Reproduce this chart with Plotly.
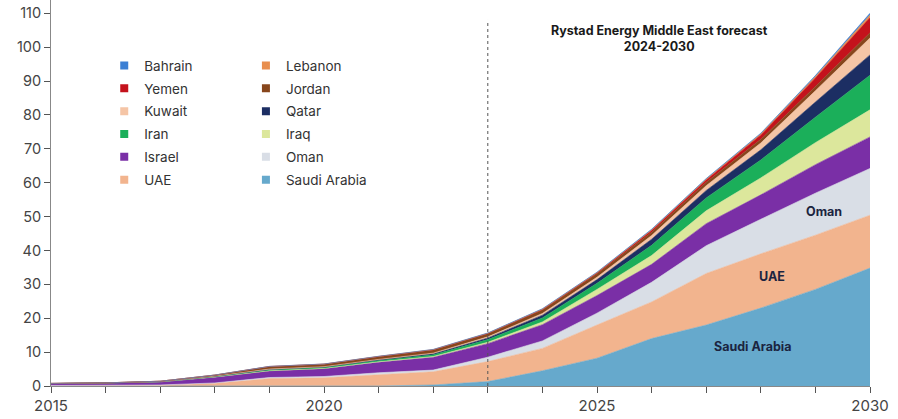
import plotly.graph_objects as go

# Installed capacity by country, stacked (GW)
years = list(range(2015, 2031))

saudi_arabia = [0, 0, 0, 0, 0, 0, 0, 0.3, 1.3, 4.5, 8.2, 14.0, 18.0, 23.0, 28.5, 34.8]
uae = [0.1, 0.15, 0.25, 0.8, 2.2, 2.4, 3.4, 3.9, 5.9, 6.6, 9.8, 10.8, 15.2, 16.0, 16.0, 15.6]
oman = [0.05, 0.05, 0.05, 0.1, 0.3, 0.4, 0.5, 0.5, 1.3, 2.2, 3.5, 5.8, 8.2, 10.2, 12.4, 13.8]
israel = [0.55, 0.65, 0.9, 1.7, 1.9, 2.3, 3.1, 3.8, 4.0, 4.8, 5.2, 5.3, 6.5, 7.2, 8.4, 9.3]
iraq = [0, 0, 0.02, 0.05, 0.1, 0.1, 0.15, 0.2, 0.4, 0.8, 1.8, 2.6, 3.8, 5.0, 6.5, 8.0]
iran = [0.02, 0.03, 0.05, 0.15, 0.3, 0.3, 0.4, 0.5, 0.8, 1.2, 1.8, 3.0, 3.8, 5.3, 7.5, 10.2]
qatar = [0, 0, 0.02, 0.05, 0.1, 0.1, 0.2, 0.3, 0.5, 0.8, 1.1, 1.8, 2.2, 3.0, 4.5, 6.0]
kuwait = [0, 0, 0.02, 0.05, 0.1, 0.1, 0.1, 0.2, 0.3, 0.5, 0.7, 1.1, 1.4, 2.0, 3.3, 5.0]
jordan = [0.05, 0.05, 0.1, 0.3, 0.7, 0.7, 0.8, 0.9, 0.9, 1.0, 1.0, 1.0, 1.0, 1.1, 1.3, 1.5]
yemen = [0, 0, 0, 0.02, 0.05, 0.05, 0.05, 0.1, 0.1, 0.2, 0.25, 0.5, 0.7, 1.3, 2.5, 4.5]
lebanon = [0, 0, 0, 0.01, 0.02, 0.03, 0.05, 0.05, 0.1, 0.1, 0.15, 0.2, 0.25, 0.3, 0.4, 0.8]
bahrain = [0, 0, 0, 0.01, 0.02, 0.02, 0.03, 0.05, 0.05, 0.1, 0.1, 0.15, 0.15, 0.2, 0.3, 0.5]

# Stacked bottom to top
series = [
    ("Saudi Arabia", saudi_arabia, "#66A9CC"),
    ("UAE", uae, "#F2B48E"),
    ("Oman", oman, "#D9DEE6"),
    ("Israel", israel, "#7A2FA6"),
    ("Iraq", iraq, "#DCE79C"),
    ("Iran", iran, "#1BAF5A"),
    ("Qatar", qatar, "#1C2E63"),
    ("Kuwait", kuwait, "#F5C5A6"),
    ("Jordan", jordan, "#87461C"),
    ("Yemen", yemen, "#C4121C"),
    ("Lebanon", lebanon, "#E88E4E"),
    ("Bahrain", bahrain, "#3B7FD4"),
]
colors = {name: c for name, _, c in series}

legend_left = ["Bahrain", "Yemen", "Kuwait", "Iran", "Israel", "UAE"]
legend_right = ["Lebanon", "Jordan", "Qatar", "Iraq", "Oman", "Saudi Arabia"]

forecast_start = 2023
area_labels = [("Saudi Arabia", 2027.85, 11.8), ("UAE", 2028.2, 32.2), ("Oman", 2029.15, 51.6)]

FONT = "Inter, Roboto, Arial, sans-serif"

fig = go.Figure()

for name, vals, c in series:
    fig.add_trace(go.Scatter(
        x=years, y=vals, name=name, stackgroup="one", mode="lines",
        line=dict(width=0.6, color=c), fillcolor=c, showlegend=False,
    ))

# Legend entries as small squares, in two columns
for names, leg in ((legend_left, "legend"), (legend_right, "legend2")):
    for name in names:
        fig.add_trace(go.Scatter(
            x=[None], y=[None], mode="markers", name=name, legend=leg,
            legendgroup=name,
            marker=dict(symbol="square", size=8, color=colors[name]),
        ))

fig.add_shape(type="line", xref="x", yref="y", x0=forecast_start, x1=forecast_start,
              y0=0, y1=108, line=dict(color="#555555", width=1, dash="dot"))

fig.add_annotation(x=2026.15, y=102.4, xref="x", yref="y",
                   text="<b>Rystad Energy Middle East forecast<br>2024-2030</b>",
                   showarrow=False, font=dict(family=FONT, size=12.5, color="#1a1a1a"),
                   align="center")

for text, ax, ay in area_labels:
    fig.add_annotation(x=ax, y=ay, xref="x", yref="y", text=f"<b>{text}</b>",
                       showarrow=False, font=dict(family=FONT, size=12.5, color="#1b2440"))

leg_common = dict(
    orientation="v", traceorder="grouped", bgcolor="rgba(0,0,0,0)",
    font=dict(family=FONT, size=13.5, color="#333333"), itemwidth=30,
    yanchor="top", xanchor="left", tracegroupgap=2.3,
)

fig.update_layout(
    width=898, height=419,
    margin=dict(l=51, r=28, t=0, b=33),
    paper_bgcolor="white", plot_bgcolor="white",
    font=dict(family=FONT, size=14, color="#444444"),
    showlegend=True,
    legend=dict(x=0.065, y=0.87, **leg_common),
    legend2=dict(x=0.238, y=0.87, **leg_common),
    xaxis=dict(
        range=[2015, 2030], tickmode="array", tickvals=years,
        ticktext=[str(y) if y % 5 == 0 else "" for y in years],
        ticks="outside", ticklen=6, tickcolor="#555555",
        showline=True, linecolor="#888888", linewidth=1,
        showgrid=False, zeroline=False,
        tickfont=dict(family=FONT, size=15, color="#444444"),
    ),
    yaxis=dict(
        range=[0, 113.9], tickmode="array", tickvals=list(range(0, 111, 10)),
        ticks="outside", ticklen=6, tickcolor="#555555",
        showline=True, linecolor="#888888", linewidth=1,
        showgrid=False, zeroline=False,
        tickfont=dict(family=FONT, size=14.5, color="#444444"),
    ),
)

fig.write_html("out.html")
